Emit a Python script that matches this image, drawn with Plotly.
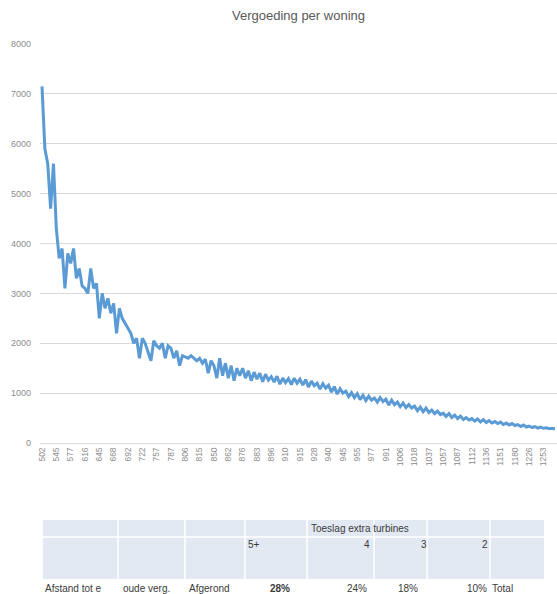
import plotly.graph_objects as go

# Afstand (m) shown on every fifth category of the horizontal axis
afstand_labels = [
    "502", "545", "577", "616", "645", "668", "692", "722", "757", "787",
    "806", "815", "850", "862", "876", "883", "896", "910", "915", "928",
    "940", "945", "955", "977", "991", "1006", "1018", "1037", "1057", "1087",
    "1112", "1136", "1151", "1180", "1226", "1253",
]
label_step = 5

# Vergoeding per woning, ordered by afstand
vergoeding = [
    7150, 5900, 5600, 4700, 5600, 4300, 3700, 3900, 3100, 3800,
    3600, 3900, 3300, 3500, 3150, 3100, 3000, 3500, 3100, 3200,
    2500, 3000, 2700, 2900, 2600, 2800, 2200, 2700, 2500, 2400,
    2300, 2200, 2000, 2100, 1700, 2100, 2000, 1800, 1650, 2050,
    1950, 1900, 2000, 1700, 1950, 1900, 1700, 1850, 1550, 1750,
    1720, 1700, 1750, 1700, 1650, 1700, 1600, 1680, 1400, 1650,
    1550, 1300, 1700, 1350, 1600, 1300, 1550, 1250, 1500, 1350,
    1500, 1300, 1450, 1250, 1420, 1280, 1400, 1230, 1380, 1260,
    1330, 1220, 1340, 1180, 1300, 1210, 1290, 1170, 1300, 1200,
    1280, 1160, 1270, 1120, 1240, 1150, 1200, 1080, 1190, 1100,
    1160, 1020, 1130, 980, 1090, 1000, 1040, 930, 1010, 910,
    990, 870, 960, 850, 940, 860, 900, 820, 910, 830,
    880, 760, 860, 770, 820, 730, 800, 710, 770, 700,
    740, 650, 720, 630, 700, 610, 660, 590, 640, 570,
    600, 530, 590, 510, 560, 490, 540, 470, 510, 460,
    490, 440, 480, 420, 470, 410, 450, 400, 430, 390,
    420, 370, 400, 360, 390, 350, 370, 330, 360, 320,
    340, 310, 330, 300, 320, 295, 305, 285, 295, 280,
]

# Worksheet block underneath the chart
toeslag_kop = "Toeslag extra turbines"
turbines = ["5+", "4", "3", "2"]
kolommen = ["Afstand tot e", "oude verg.", "Afgerond"]
toeslag = ["28%", "24%", "18%", "10%"]
totaal = "Total"

W, H = 557, 594
L, R, T, B = 40, 0, 44, 151
FONT = "Liberation Sans"


def px(x):
    """Pixel column -> paper x."""
    return (x - L) / (W - L - R)


def py(y):
    """Pixel row -> paper y."""
    return (H - B - y) / (H - T - B)


n = len(vergoeding)
fig = go.Figure(
    go.Scatter(
        x=list(range(n)),
        y=vergoeding,
        mode="lines",
        line=dict(color="#5b9bd5", width=3),
        hoverinfo="skip",
    )
)

fig.update_layout(
    width=W,
    height=H,
    margin=dict(l=L, r=R, t=T, b=B),
    paper_bgcolor="white",
    plot_bgcolor="white",
    showlegend=False,
    font=dict(family=FONT, color="#7f7f7f"),
    title=dict(
        text="Vergoeding per woning",
        x=px(298.5),
        xref="paper",
        xanchor="center",
        y=1 - 15 / H,
        yref="container",
        yanchor="middle",
        font=dict(size=13, color="#595959", family=FONT),
    ),
)

fig.update_xaxes(
    range=[-0.7, n - 1 + 0.7],
    tickmode="array",
    tickvals=list(range(0, n, label_step))[: len(afstand_labels)],
    ticktext=afstand_labels,
    tickangle=-90,
    tickfont=dict(size=8.5, color="#8c8c8c"),
    showgrid=False,
    zeroline=False,
    showline=True,
    linecolor="#d9d9d9",
    linewidth=1,
    ticks="",
    automargin=False,
)

fig.update_yaxes(
    range=[0, 8000],
    dtick=1000,
    tickformat="d",
    tickfont=dict(size=9, color="#8c8c8c"),
    showgrid=True,
    gridcolor="#d9d9d9",
    gridwidth=1,
    zeroline=False,
    showline=False,
    ticks="",
    ticklabelstandoff=8,
    automargin=False,
)

# Table background and cell borders
col_edges = [43, 118, 185, 245, 307, 374, 427, 490, 544]
shapes = [
    dict(
        type="rect", xref="paper", yref="paper",
        x0=px(col_edges[0]), x1=px(col_edges[-1]), y0=py(579), y1=py(520),
        fillcolor="#e3e9f3", line=dict(width=0), layer="below",
    ),
    dict(
        type="line", xref="paper", yref="paper",
        x0=px(col_edges[0]), x1=px(col_edges[-1]), y0=py(537), y1=py(537),
        line=dict(color="white", width=1.5),
    ),
]
for xe in col_edges[1:-1]:
    shapes.append(
        dict(
            type="line", xref="paper", yref="paper",
            x0=px(xe), x1=px(xe), y0=py(520), y1=py(579),
            line=dict(color="white", width=1.5),
        )
    )
fig.update_layout(shapes=shapes)

TXT = dict(size=10, color="#3a3a3a", family=FONT)
ann = []


def cell(text, x, y, anchor="left", bold=False):
    ann.append(
        dict(
            text=f"<b>{text}</b>" if bold else text,
            xref="paper", yref="paper",
            x=px(x), y=py(y),
            xanchor=anchor, yanchor="middle",
            showarrow=False, font=TXT,
        )
    )


cell(toeslag_kop, 309, 528)
cell(turbines[0], 246, 544)
for t, xr in zip(turbines[1:], [372, 429, 490]):
    cell(t, xr, 544, anchor="right")
for k, xl in zip(kolommen, [43, 121, 187]):
    cell(k, xl, 588)
for i, (p, xr) in enumerate(zip(toeslag, [292, 369, 420, 489])):
    cell(p, xr, 588, anchor="right", bold=(i == 0))
cell(totaal, 490, 588)

fig.update_layout(annotations=ann)

fig.write_html("out.html")
